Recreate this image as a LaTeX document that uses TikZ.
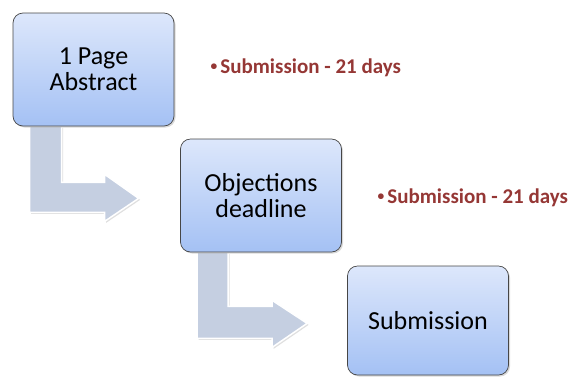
\documentclass[tikz,border=0pt]{standalone}
\usepackage{fontspec}
\setmainfont{Carlito}
\usetikzlibrary{shadows,backgrounds}

\definecolor{boxtop}{RGB}{221,231,251}
\definecolor{boxbottom}{RGB}{164,193,244}
\definecolor{arrowfill}{RGB}{197,207,225}
\definecolor{notered}{RGB}{149,55,53}

\newcommand{\notebullet}{\raisebox{2.5pt}{\fontsize{13.5}{13.5}\selectfont\textbullet}\hspace{3pt}}

\tikzset{
  fatarrow/.style={fill=arrowfill, draw=white, line width=1.5pt, line join=miter,
    drop shadow={shadow xshift=1.5pt, shadow yshift=-1.5pt, opacity=0.25}},
  note/.style={anchor=base west, inner sep=0pt, text=notered,
    font=\fontsize{21}{24}\selectfont\bfseries}
}

\begin{document}
\begin{tikzpicture}[x=1pt,y=-1pt]
        \useasboundingbox (0,0) rectangle (573,376);

        \begin{scope}[every node/.style={draw=gray!55!black, line width=0.7pt,
            rounded corners=10pt, top color=boxtop, bottom color=boxbottom,
            minimum width=161pt, minimum height=113pt, align=center,
            font=\fontsize{26}{26}\selectfont,
            drop shadow={shadow xshift=1.5pt, shadow yshift=-1.5pt, opacity=0.3}}]
          \node (abstract)   at (93.5,69.5) {1 Page\\Abstract};
          \node (objections) at (261,195.5) {Objections\\deadline};
          \node[minimum height=109pt] (submission) at (428,320.5) {Submission};
        \end{scope}

        \begin{pgfonlayer}{background}
          \draw[fatarrow] ([xshift=17pt]abstract.south west) -- ++(32,0) -- ++(0,56)
            -- ++(43,0) -- ++(0,-8) -- ++(34,24) -- ++(-34,23) -- ++(0,-9) -- ++(-75,0) -- cycle;
          \draw[fatarrow] ([xshift=17pt]objections.south west) -- ++(31,0) -- ++(0,54)
            -- ++(44,0) -- ++(0,-6) -- ++(35,23) -- ++(-35,24) -- ++(0,-9) -- ++(-75,0) -- cycle;
        \end{pgfonlayer}

        \node[note] (note1) at (210.5,73) {\notebullet Submission - 21 days};
        \node[note] (note2) at (377.5,203) {\notebullet Submission - 21 days};

\end{tikzpicture}
\end{document}
